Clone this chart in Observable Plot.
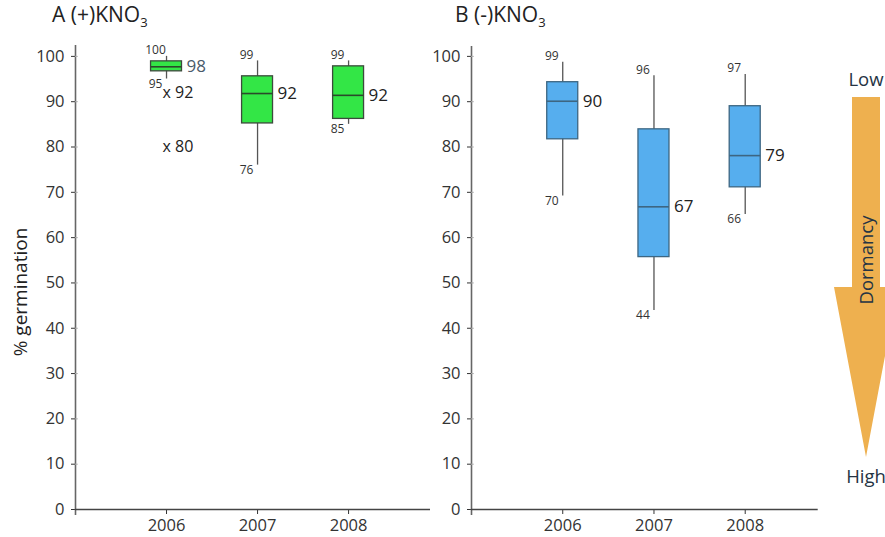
<!DOCTYPE html>
<html><head><meta charset="utf-8">
<script src="https://cdn.jsdelivr.net/npm/d3@7"></script>
<script src="https://cdn.jsdelivr.net/npm/@observablehq/plot@0.6"></script>
<style>
body{margin:0;background:#fff;font-family:"Open Sans",sans-serif;}
#wrap{position:relative;width:885px;height:537px;overflow:hidden;}
#wrap>div,#wrap>svg{position:absolute;}
.ttl{font-size:21px;color:#222;top:0px;}
.ttl sub{font-size:13px;}
#ylab{left:20px;top:292px;transform:translate(-50%,-50%) rotate(-90deg);font-size:19px;color:#222;white-space:nowrap;}
</style></head><body>
<div id="wrap">
  <div id="pa" style="left:0;top:0"></div>
  <div id="pb" style="left:400px;top:0"></div>
  <div class="ttl" style="left:52px">A (+)KNO<sub>3</sub></div>
  <div class="ttl" style="left:455px">B (-)KNO<sub>3</sub></div>
  <div id="ylab">% germination</div>
  <svg id="arrow" style="left:800px;top:0" width="85" height="537"></svg>
</div>
<script>
const years = [2006, 2007, 2008];
// Panel A (+)KNO3
const aLow = [95, 76, 85];
const aQ1 = [96.7, 85.2, 86.2];
const aMed = [97.7, 91.8, 91.4];
const aQ3 = [98.9, 95.6, 97.8];
const aHigh = [100, 99, 99];
const aMedLabel = [98, 92, 92];
const aOutYear = [2006, 2006];
const aOutVal = [92, 80];
// Panel B (-)KNO3
const bLow = [69.2, 43.9, 65.1];
const bQ1 = [81.7, 55.7, 71.1];
const bMed = [90.1, 66.8, 78.1];
const bQ3 = [94.3, 83.9, 89];
const bHigh = [98.7, 95.7, 96];
const bMedLabel = [90, 67, 79];
const bLowLabel = [70, 44, 66];
const bHighLabel = [99, 96, 97];
const yTicks = [0,10,20,30,40,50,60,70,80,90,100];

function rows(low,q1,med,q3,high,medLabel,lowLabel,highLabel){
  return years.map((y,i)=>({year:y,low:low[i],q1:q1[i],med:med[i],q3:q3[i],high:high[i],
    medLabel:medLabel[i],lowLabel:lowLabel[i],highLabel:highLabel[i]}));
}
const A = rows(aLow,aQ1,aMed,aQ3,aHigh,aMedLabel,aLow,aHigh);
const B = rows(bLow,bQ1,bMed,bQ3,bHigh,bMedLabel,bLowLabel,bHighLabel);
const outs = aOutYear.map((y,i)=>({year:y,val:aOutVal[i]}));

function panel(data, opts){
  const hw = 0.17;
  const marks = [
    Plot.axisY({ticks:yTicks, tickSize:4, tickPadding:7, color:"#333", label:null}),
    Plot.axisX({ticks:years, tickFormat:"d", tickSize:5, tickPadding:5, color:"#333", label:null}),
    Plot.ruleX([2005], {y1:-1.3, y2:opts.ytop, stroke:"#666", strokeWidth:1.6}),
    Plot.ruleY(yTicks, {x1:2005, x2:2005+opts.tickR, stroke:"#aaa", strokeWidth:1}),
    Plot.ruleY([0], {x1:2005, x2:opts.xend, stroke:"#444", strokeWidth:1.6}),
    Plot.ruleX(data, {x:"year", y1:"low", y2:"high", stroke:"#555", strokeWidth:1.3}),
    Plot.rect(data, {x1:d=>d.year-hw, x2:d=>d.year+hw, y1:"q1", y2:"q3", fill:opts.fill, stroke:opts.stroke, strokeWidth:1.3}),
    Plot.ruleY(data, {y:"med", x1:d=>d.year-hw, x2:d=>d.year+hw, stroke:opts.medStroke, strokeWidth:1.6}),
    Plot.text(data, {x:"year", y:"high", text:d=>String(d.highLabel), dx:-11, dy:-6, fontSize:12, fill:"#333"}),
    Plot.text(data, {x:"year", y:"low", text:d=>String(d.lowLabel), dx:-11, dy:5, fontSize:12, fill:"#333"}),
    Plot.text(data, {x:"year", y:"med", text:d=>String(d.medLabel), dx:20, textAnchor:"start", fontSize:17,
      fill:(d,i)=>d.year===2006 && opts.firstGray ? "#4a5a6a" : "#222"})
  ];
  if (opts.outs) marks.push(Plot.text(opts.outs, {x:"year", y:"val", text:d=>"x " + d.val, dx:-4, textAnchor:"start", fontSize:16, fill:"#222"}));
  return Plot.plot({
    width: opts.width, height: 537,
    marginLeft: opts.ml, marginRight: opts.mr, marginTop: 45, marginBottom: 28,
    style:{fontFamily:"Open Sans, sans-serif", fontSize:"16.5px", background:"transparent", overflow:"visible"},
    x:{type:"linear", domain:[2005, opts.xend]},
    y:{domain:[0, 102.4]},
    marks
  });
}

document.getElementById("pa").append(panel(A, {width:440, ml:75, mr:10, xend:2008.9, ytop:102.4,
  tickR:0.03, fill:"#33e646", stroke:"#3c4a3c", medStroke:"#2a4a2a", firstGray:true, outs}));
document.getElementById("pb").append(panel(B, {width:440, ml:71, mr:22.3, xend:2008.8, ytop:102.2,
  tickR:0.03, fill:"#56aeee", stroke:"#3d6682", medStroke:"#3d6682", firstGray:false}));

// Dormancy arrow (decoration)
const svg = d3.select("#arrow");
const cx = 66;
svg.append("path").attr("d",
  `M${cx-14},97 L${cx+14},97 L${cx+14},287 L${cx+32},287 L${cx},457 L${cx-32},287 L${cx-14},287 Z`)
  .attr("fill","#eeb04f");
svg.append("text").attr("x",cx).attr("y",86).attr("text-anchor","middle").attr("font-size",18.5)
  .attr("fill","#253444").attr("font-family","Open Sans, sans-serif").text("Low");
svg.append("text").attr("x",cx).attr("y",483).attr("text-anchor","middle").attr("font-size",18.5)
  .attr("fill","#253444").attr("font-family","Open Sans, sans-serif").text("High");
svg.append("text").attr("transform",`translate(${cx+7},260) rotate(-90)`).attr("text-anchor","middle")
  .attr("font-size",18.5).attr("fill","#253444").attr("font-family","Open Sans, sans-serif").text("Dormancy");
</script>
</body></html>
